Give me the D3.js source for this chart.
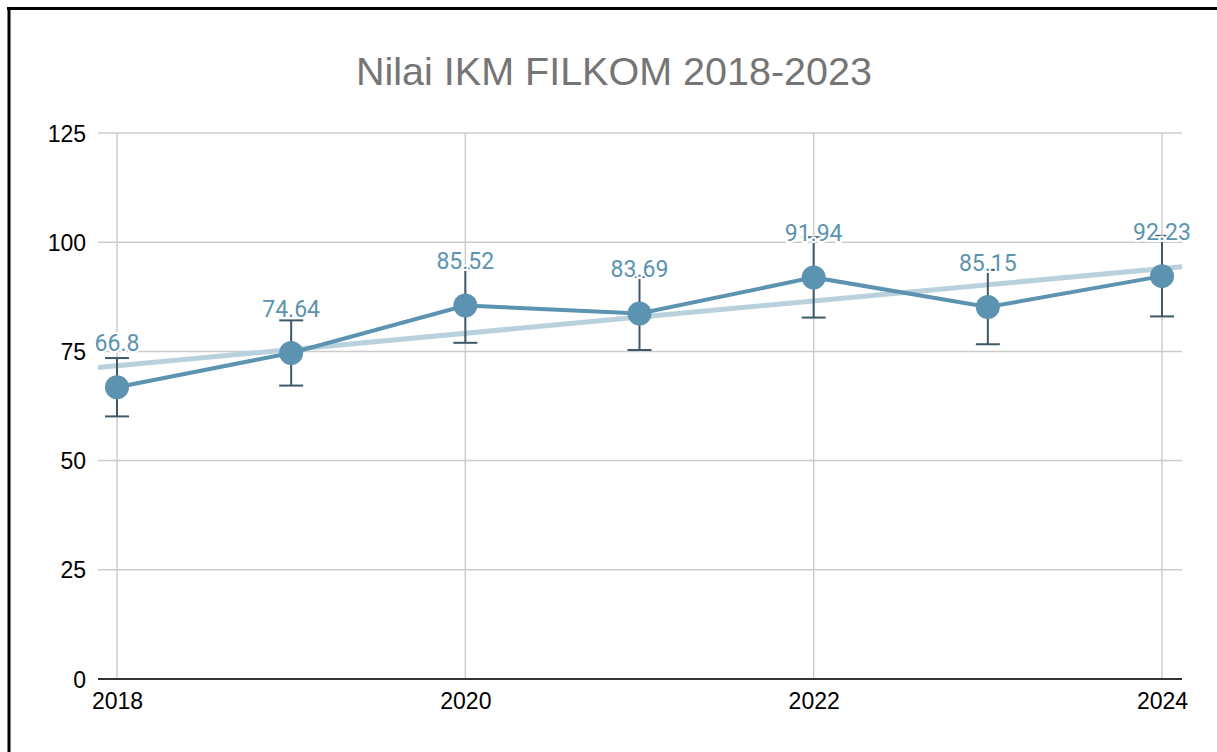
<!DOCTYPE html>
<html><head><meta charset="utf-8">
<script src="https://cdn.jsdelivr.net/npm/d3@7"></script>
<style>body{margin:0;background:#fff}svg{display:block}</style>
</head><body>
<svg id="c" width="1217" height="752"></svg>
<script>
const title = "Nilai IKM FILKOM 2018-2023";
const years = [2018, 2019, 2020, 2021, 2022, 2023, 2024];
const values = [66.8, 74.64, 85.52, 83.69, 91.94, 85.15, 92.23];
const errorPct = 0.10;
const yTicks = [0, 25, 50, 75, 100, 125];
const xTicks = [2018, 2020, 2022, 2024];

const svg = d3.select("#c");
const W = 1217, H = 752;
svg.append("rect").attr("width", W).attr("height", H).attr("fill", "#fff");
// frame
svg.append("line").attr("x1", 7).attr("x2", W).attr("y1", 8.5).attr("y2", 8.5).attr("stroke", "#000").attr("stroke-width", 3);
svg.append("line").attr("x1", 9).attr("x2", 9).attr("y1", 7).attr("y2", H).attr("stroke", "#000").attr("stroke-width", 3);

const x = d3.scaleLinear().domain([2018, 2024]).range([117, 1162]);
const y = d3.scaleLinear().domain([0, 125]).range([679, 133]);
const gx0 = 98, gx1 = 1182;

svg.append("text").attr("x", 614).attr("y", 85).attr("text-anchor", "middle")
  .attr("font-family", "Liberation Sans, Arial, sans-serif").attr("font-size", 39.5)
  .attr("fill", "#757575").text(title);

// y grid
svg.append("g").selectAll("line").data(yTicks.filter(d => d !== 0)).join("line")
  .attr("x1", gx0).attr("x2", gx1).attr("y1", d => y(d)).attr("y2", d => y(d))
  .attr("stroke", "#cccccc").attr("stroke-width", 1.5);
// x grid
svg.append("g").selectAll("line").data(xTicks).join("line")
  .attr("x1", d => x(d)).attr("x2", d => x(d)).attr("y1", y(125)).attr("y2", y(0))
  .attr("stroke", "#cccccc").attr("stroke-width", 1.5);
// baseline
svg.append("line").attr("x1", gx0).attr("x2", gx1).attr("y1", y(0)).attr("y2", y(0))
  .attr("stroke", "#333333").attr("stroke-width", 2);

const yAxis = d3.axisLeft(y).tickValues(yTicks).tickSize(0).tickPadding(0);
const ya = svg.append("g").attr("transform", `translate(86,0)`).call(yAxis);
ya.select(".domain").remove();
ya.selectAll("text").attr("font-family", "Liberation Sans, Arial, sans-serif").attr("font-size", 23).attr("fill", "#000").attr("dy", "0.35em");

const xAxis = d3.axisBottom(x).tickValues(xTicks).tickFormat(d3.format("d")).tickSize(0).tickPadding(0);
const xa = svg.append("g").attr("transform", `translate(0,${y(0)})`).call(xAxis);
xa.select(".domain").remove();
xa.selectAll("text").attr("font-family", "Liberation Sans, Arial, sans-serif").attr("font-size", 23).attr("fill", "#000").attr("dy", "1.3em");

// trendline (least squares from data)
const mx = d3.mean(years), my = d3.mean(values);
const slope = d3.sum(years, (d, i) => (d - mx) * (values[i] - my)) / d3.sum(years, d => (d - mx) ** 2);
const icpt = my - slope * mx;
const tx0 = x.invert(gx0), tx1 = x.invert(gx1);
svg.append("line").attr("x1", x(tx0)).attr("x2", x(tx1))
  .attr("y1", y(icpt + slope * tx0)).attr("y2", y(icpt + slope * tx1))
  .attr("stroke", "#b8d1dd").attr("stroke-width", 5);

// error bars
const eb = svg.append("g").attr("stroke", "#3f5868").attr("stroke-width", 2);
years.forEach((yr, i) => {
  const v = values[i], lo = v * (1 - errorPct), hi = v * (1 + errorPct);
  eb.append("line").attr("x1", x(yr)).attr("x2", x(yr)).attr("y1", y(hi)).attr("y2", y(lo));
  eb.append("line").attr("x1", x(yr) - 12).attr("x2", x(yr) + 12).attr("y1", y(hi)).attr("y2", y(hi));
  eb.append("line").attr("x1", x(yr) - 12).attr("x2", x(yr) + 12).attr("y1", y(lo)).attr("y2", y(lo));
});

const color = "#5b93b0";
const line = d3.line().x((d, i) => x(years[i])).y(d => y(d));
svg.append("path").datum(values).attr("d", line).attr("fill", "none").attr("stroke", color).attr("stroke-width", 4);
svg.append("g").selectAll("circle").data(values).join("circle")
  .attr("cx", (d, i) => x(years[i])).attr("cy", d => y(d)).attr("r", 12).attr("fill", color);

svg.append("g").selectAll("text").data(values).join("text")
  .attr("x", (d, i) => x(years[i])).attr("y", d => y(d) - 36)
  .attr("text-anchor", "middle").attr("font-family", "Roboto, sans-serif").attr("font-size", 23)
  .attr("fill", color).attr("stroke", "#fff").attr("stroke-width", 4).attr("paint-order", "stroke")
  .text(d => String(d));
</script>
</body></html>
